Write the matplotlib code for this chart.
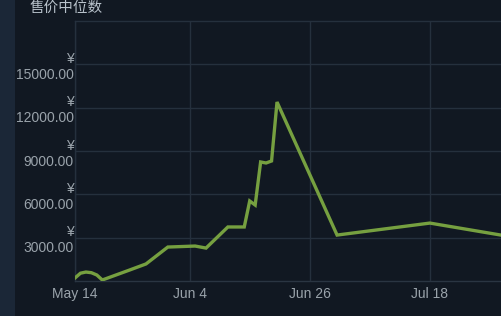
import matplotlib
matplotlib.use('Agg')
import matplotlib.pyplot as plt
import matplotlib.dates as mdates
import pandas as pd

# 售价中位数数据（按日期）
dates = ['2023-05-14', '2023-05-15', '2023-05-16', '2023-05-17', '2023-05-18',
         '2023-05-19', '2023-05-24', '2023-05-27', '2023-05-31', '2023-06-05',
         '2023-06-07', '2023-06-11', '2023-06-14', '2023-06-15', '2023-06-16',
         '2023-06-17', '2023-06-18', '2023-06-19', '2023-06-20', '2023-07-01',
         '2023-07-18', '2023-07-31']
prices = [210, 540, 620, 575, 415,
          70, 760, 1180, 2350, 2420,
          2280, 3740, 3740, 5540, 5260,
          8240, 8170, 8310, 12390, 3180,
          4010, 3180]

tick_dates = ['2023-05-14', '2023-06-04', '2023-06-26', '2023-07-18']
y_ticks = [3000, 6000, 9000, 12000, 15000]

bg = '#111822'
strip = '#1b2737'
grid_c = '#25303d'
text_c = '#9aa3ab'
line_c = '#76a040'

x = pd.to_datetime(dates)

fig = plt.figure(figsize=(5.02, 3.16), dpi=100, facecolor=bg)
# 左侧深蓝色竖条
fig.patches.append(plt.Rectangle((0, 0), 15 / 502, 1, transform=fig.transFigure,
                                 facecolor=strip, edgecolor='none', zorder=0))

ax = fig.add_axes([75 / 502, 1 - 281 / 316, 1 - 75 / 502, (281 - 21) / 316])
ax.set_facecolor(bg)
ax.plot(x, prices, color=line_c, linewidth=2.4, solid_joinstyle='miter', zorder=3)

ax.set_xlim(pd.Timestamp('2023-05-14'), pd.Timestamp('2023-07-31 05:00'))
ax.set_ylim(0, 18000)

ax.set_xticks(pd.to_datetime(tick_dates))
ax.xaxis.set_major_formatter(mdates.DateFormatter('%b %-d'))
ax.set_yticks(y_ticks)
ax.set_yticklabels([f'¥\n{v:.2f}' for v in y_ticks], linespacing=1.2)

ax.grid(True, color=grid_c, linewidth=1)
ax.set_axisbelow(True)
for side in ['left', 'bottom', 'top']:
    ax.spines[side].set_color(grid_c)
    ax.spines[side].set_linewidth(1)
ax.spines['bottom'].set_color('#2a3542')
ax.spines['right'].set_visible(False)

ax.tick_params(axis='both', length=0, colors=text_c, labelsize=10)
ax.tick_params(axis='y', pad=1)
ax.tick_params(axis='x', pad=4)
for lab in ax.get_xticklabels() + ax.get_yticklabels():
    lab.set_fontfamily(['Liberation Sans', 'DejaVu Sans'])

fig.text(30 / 502, 1 - 8 / 316, '售价中位数', color='#b8c2cb', fontsize=10.5,
         family=['Noto Sans CJK SC', 'DejaVu Sans'], ha='left', va='center')

fig.savefig('out.png', dpi=100, facecolor=bg)
